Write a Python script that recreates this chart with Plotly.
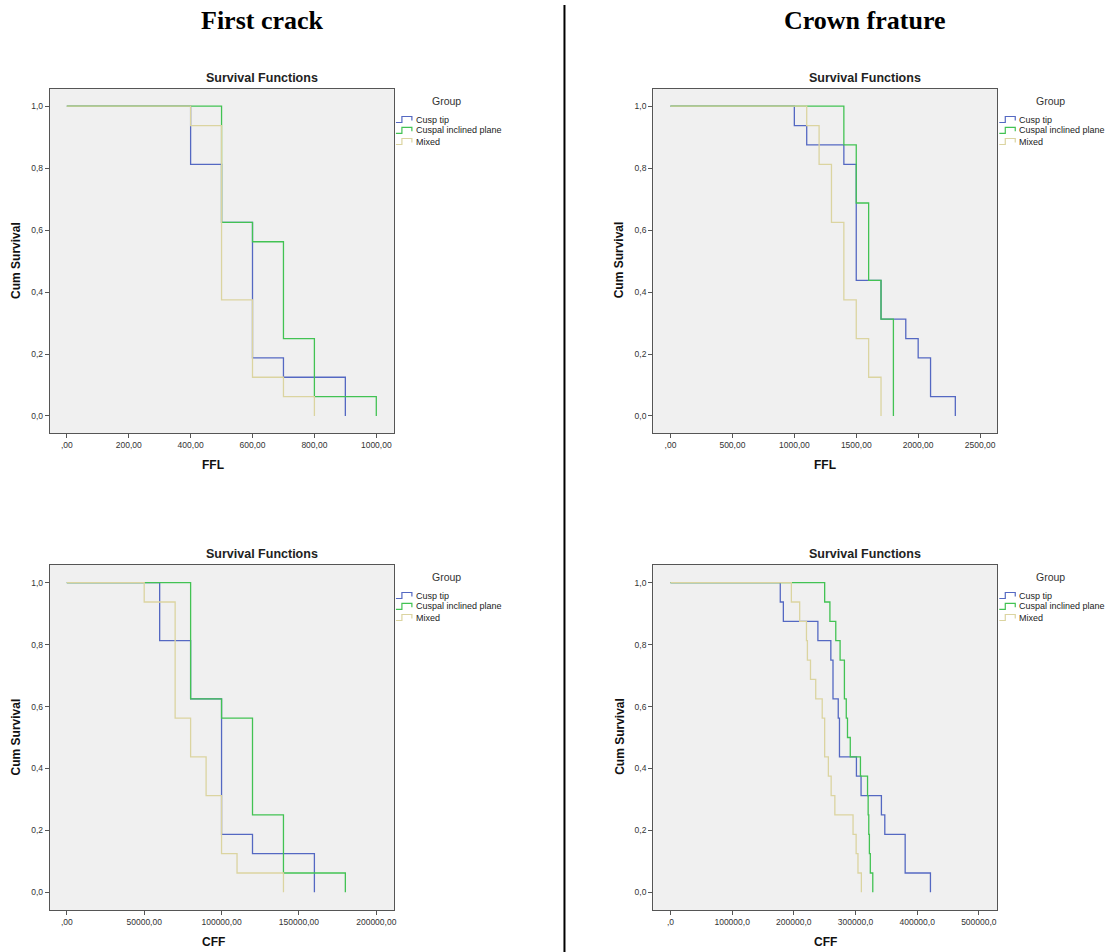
import plotly.graph_objects as go

W, H = 1111, 952

# ---------------- data ----------------
groups = ["Cusp tip", "Cuspal inclined plane", "Mixed"]

# First crack - FFL
fc_ffl_cusp_t = [0, 400, 500, 600, 700, 900]
fc_ffl_cusp_s = [1, 0.8125, 0.625, 0.1875, 0.125, 0]
fc_ffl_incl_t = [0, 500, 600, 700, 800, 1000]
fc_ffl_incl_s = [1, 0.625, 0.5625, 0.25, 0.0625, 0]
fc_ffl_mix_t = [0, 400, 500, 600, 700, 800]
fc_ffl_mix_s = [1, 0.9375, 0.375, 0.125, 0.0625, 0]

# Crown fracture - FFL
cf_ffl_cusp_t = [0, 1000, 1100, 1400, 1500, 1700, 1900, 2000, 2100, 2300]
cf_ffl_cusp_s = [1, 0.9375, 0.875, 0.8125, 0.4375, 0.3125, 0.25, 0.1875, 0.0625, 0]
cf_ffl_incl_t = [0, 1400, 1500, 1600, 1700, 1800]
cf_ffl_incl_s = [1, 0.875, 0.6875, 0.4375, 0.3125, 0]
cf_ffl_mix_t = [0, 1100, 1200, 1300, 1400, 1500, 1600, 1700]
cf_ffl_mix_s = [1, 0.9375, 0.8125, 0.625, 0.375, 0.25, 0.125, 0]

# First crack - CFF
fc_cff_cusp_t = [0, 60000, 80000, 100000, 120000, 160000]
fc_cff_cusp_s = [1, 0.8125, 0.625, 0.1875, 0.125, 0]
fc_cff_incl_t = [0, 80000, 100000, 120000, 140000, 180000]
fc_cff_incl_s = [1, 0.625, 0.5625, 0.25, 0.0625, 0]
fc_cff_mix_t = [0, 50000, 70000, 80000, 90000, 100000, 110000, 140000]
fc_cff_mix_s = [1, 0.9375, 0.5625, 0.4375, 0.3125, 0.125, 0.0625, 0]

# Crown fracture - CFF
cf_cff_cusp_t = [0, 178000, 183000, 239000, 260000, 263500, 272000, 274000,
                 301500, 309000, 342000, 347500, 380500, 421500]
cf_cff_cusp_s = [1, 0.9375, 0.875, 0.8125, 0.75, 0.625, 0.5625, 0.4375,
                 0.375, 0.3125, 0.25, 0.1875, 0.0625, 0]
cf_cff_incl_t = [0, 250000, 258500, 268000, 275000, 282000, 285000, 287000,
                 291500, 308000, 319500, 320500, 321500, 322500, 324000, 328000]
cf_cff_incl_s = [1, 0.9375, 0.875, 0.8125, 0.75, 0.625, 0.5625, 0.5,
                 0.4375, 0.375, 0.3125, 0.25, 0.1875, 0.125, 0.0625, 0]
cf_cff_mix_t = [0, 196000, 209500, 220500, 222000, 227000, 235500, 246000,
                250000, 256000, 260500, 266500, 296000, 301000, 304000, 309500]
cf_cff_mix_s = [1, 0.9375, 0.875, 0.8125, 0.75, 0.6875, 0.625, 0.5625,
                0.4375, 0.375, 0.3125, 0.25, 0.1875, 0.125, 0.0625, 0]

y_tickvals = [0, 0.2, 0.4, 0.6, 0.8, 1.0]
y_ticktext = ["0,0", "0,2", "0,4", "0,6", "0,8", "1,0"]

x_ffl1_vals = [0, 200, 400, 600, 800, 1000]
x_ffl1_text = [",00", "200,00", "400,00", "600,00", "800,00", "1000,00"]
x_ffl2_vals = [0, 500, 1000, 1500, 2000, 2500]
x_ffl2_text = [",00", "500,00", "1000,00", "1500,00", "2000,00", "2500,00"]
x_cff1_vals = [0, 50000, 100000, 150000, 200000]
x_cff1_text = [",00", "50000,00", "100000,00", "150000,00", "200000,00"]
x_cff2_vals = [0, 100000, 200000, 300000, 400000, 500000]
x_cff2_text = [",0", "100000,0", "200000,0", "300000,0", "400000,0", "500000,0"]

column_titles = ["First crack", "Crown frature"]
panel_title = "Survival Functions"
y_title = "Cum Survival"
legend_title = "Group"

# ---------------- styling ----------------
colors = ["#5468c2", "#42c253", "#dbd4a0"]
SANS = "Liberation Sans, Arial, sans-serif"
SERIF = "Liberation Serif, Times New Roman, serif"
FRAME = "#555555"

def px(x):
    return x / W

def py(y):
    return 1 - y / H

# panel frames in pixels: (x0, x1, y0, y1)
panels = [
    dict(frame=(50, 395, 89, 433), xr=[-54.8, 1057], yr=[-0.0549, 1.0555],
         tv=x_ffl1_vals, tt=x_ffl1_text, xtitle="FFL", xt_x=214, xt_y=465,
         data=[(fc_ffl_cusp_t, fc_ffl_cusp_s), (fc_ffl_incl_t, fc_ffl_incl_s), (fc_ffl_mix_t, fc_ffl_mix_s)]),
    dict(frame=(655, 1000, 89, 433), xr=[-139.4, 2639], yr=[-0.0549, 1.0555],
         tv=x_ffl2_vals, tt=x_ffl2_text, xtitle="FFL", xt_x=827.7, xt_y=465,
         data=[(cf_ffl_cusp_t, cf_ffl_cusp_s), (cf_ffl_incl_t, cf_ffl_incl_s), (cf_ffl_mix_t, cf_ffl_mix_s)]),
    dict(frame=(50, 395, 565, 910), xr=[-10960, 211400], yr=[-0.057, 1.057],
         tv=x_cff1_vals, tt=x_cff1_text, xtitle="CFF", xt_x=214, xt_y=941.7,
         data=[(fc_cff_cusp_t, fc_cff_cusp_s), (fc_cff_incl_t, fc_cff_incl_s), (fc_cff_mix_t, fc_cff_mix_s)]),
    dict(frame=(655, 1000, 565, 910), xr=[-27980, 529900], yr=[-0.057, 1.057],
         tv=x_cff2_vals, tt=x_cff2_text, xtitle="CFF", xt_x=827.7, xt_y=941.7,
         data=[(cf_cff_cusp_t, cf_cff_cusp_s), (cf_cff_incl_t, cf_cff_incl_s), (cf_cff_mix_t, cf_cff_mix_s)]),
]

fig = go.Figure()
layout = dict(
    width=W, height=H, margin=dict(l=0, r=0, t=0, b=0, pad=0),
    paper_bgcolor="white", plot_bgcolor="#f0f0f0",
    showlegend=False, font=dict(family=SANS, size=9, color="#333333"),
)
annotations = []
shapes = []

for i, p in enumerate(panels):
    n = "" if i == 0 else str(i + 1)
    x0, x1, y0, y1 = p["frame"]
    axis_common = dict(showgrid=False, zeroline=False, showline=True, mirror=True,
                       linecolor=FRAME, linewidth=1.2, ticks="outside", ticklen=4,
                       tickcolor=FRAME, tickwidth=1.2,
                       tickfont=dict(family=SANS, size=8.5, color="#333333"))
    layout["xaxis" + n] = dict(axis_common, domain=[px(x0), px(x1)], range=p["xr"],
                               tickmode="array", tickvals=p["tv"], ticktext=p["tt"],
                               anchor="y" + n, fixedrange=True)
    layout["yaxis" + n] = dict(axis_common, domain=[py(y1), py(y0)], range=p["yr"],
                               tickmode="array", tickvals=y_tickvals, ticktext=y_ticktext,
                               anchor="x" + n, fixedrange=True)
    for g, (t, s) in enumerate(p["data"]):
        fig.add_trace(go.Scatter(x=t, y=s, mode="lines", line_shape="hv",
                                 line=dict(color=colors[g], width=1.3),
                                 name=groups[g], xaxis="x" + n, yaxis="y" + n,
                                 hoverinfo="skip"))
    # panel title
    annotations.append(dict(text="<b>" + panel_title + "</b>", x=px(x0 + 212.5), y=py(y0 - 11),
                            xref="paper", yref="paper", showarrow=False,
                            xanchor="center", yanchor="middle",
                            font=dict(family=SANS, size=12.5, color="#222222")))
    # axis titles
    annotations.append(dict(text="<b>" + p["xtitle"] + "</b>", x=px(p["xt_x"]), y=py(p["xt_y"]),
                            xref="paper", yref="paper", showarrow=False,
                            xanchor="center", yanchor="middle",
                            font=dict(family=SANS, size=12, color="#111111")))
    annotations.append(dict(text="<b>" + y_title + "</b>", x=px(x0 - 34), y=py((y0 + y1) / 2 + 89 - 89 + (260 - 261)),
                            xref="paper", yref="paper", showarrow=False, textangle=-90,
                            xanchor="center", yanchor="middle",
                            font=dict(family=SANS, size=12, color="#111111")))
    # legend (drawn manually to reproduce the SPSS look)
    annotations.append(dict(text=legend_title, x=px(x1 + 53), y=py(y0 + 12),
                            xref="paper", yref="paper", showarrow=False,
                            xanchor="center", yanchor="middle",
                            font=dict(family=SANS, size=10.5, color="#333333")))
    for g, off in enumerate([30.5, 41.3, 52.5]):
        yy = y0 + off
        lx = x1 + 2
        path = (f"M {px(lx)},{py(yy + 3)} L {px(lx + 6)},{py(yy + 3)} "
                f"L {px(lx + 6)},{py(yy - 3)} L {px(lx + 16)},{py(yy - 3)} "
                f"L {px(lx + 16)},{py(yy + 1)}")
        shapes.append(dict(type="path", path=path, xref="paper", yref="paper",
                           line=dict(color=colors[g], width=1.2)))
        annotations.append(dict(text=groups[g], x=px(lx + 18), y=py(yy),
                                xref="paper", yref="paper", showarrow=False,
                                xanchor="left", yanchor="middle",
                                font=dict(family=SANS, size=9, color="#222222")))

# column titles
for txt, cx in zip(column_titles, [263, 867]):
    annotations.append(dict(text="<b>" + txt + "</b>", x=px(cx), y=py(20),
                            xref="paper", yref="paper", showarrow=False,
                            xanchor="center", yanchor="middle",
                            font=dict(family=SERIF, size=26, color="black")))

# separator line between columns
shapes.append(dict(type="line", xref="paper", yref="paper",
                   x0=px(566), x1=px(566), y0=py(5), y1=py(952),
                   line=dict(color="black", width=2)))

layout["annotations"] = annotations
layout["shapes"] = shapes
fig.update_layout(**layout)

fig.write_html("out.html", config={"displayModeBar": False},
               post_script="document.body.style.margin='0';document.body.style.overflow='hidden';")
